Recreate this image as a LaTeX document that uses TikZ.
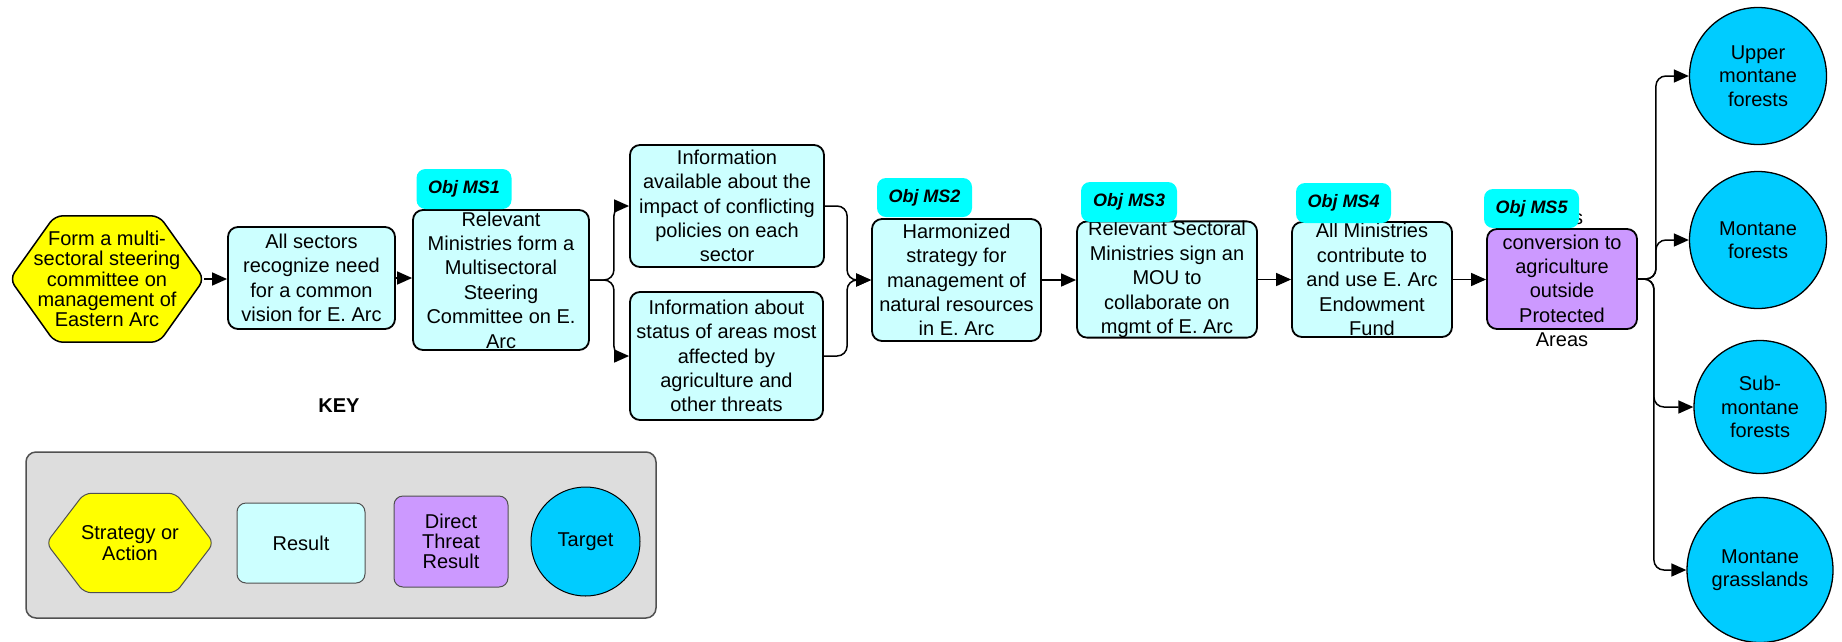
\documentclass[tikz,border=0pt]{standalone}
\usepackage{fontspec}
\setmainfont{Liberation Sans}
\usetikzlibrary{arrows.meta,shapes.geometric,backgrounds}

\definecolor{resultfill}{HTML}{CCFFFF}
\definecolor{threatfill}{HTML}{CC99FF}
\definecolor{targetfill}{HTML}{00CCFF}
\definecolor{objfill}{HTML}{00FFFF}
\definecolor{stratfill}{HTML}{FFFF00}
\definecolor{keyfill}{HTML}{DDDDDD}
\definecolor{keyline}{HTML}{505050}

% hexagon drawn around a (rectangular) node: #1 node, #2 point depth, #3 style
\newcommand{\hexaround}[3]{%
  \draw[#3] ([xshift=#2]#1.north west) -- ([xshift=-#2]#1.north east) -- (#1.east)
    -- ([xshift=-#2]#1.south east) -- ([xshift=#2]#1.south west) -- (#1.west) -- cycle;}

\tikzset{
  boxtext/.style={font=\fontsize{20}{24.4}\selectfont, align=center},
  tighttext/.style={font=\fontsize{20}{20.3}\selectfont, align=center},
  resultbox/.style={boxtext, draw=black, line width=1.8pt, fill=resultfill,
    rounded corners=10pt, inner sep=0pt},
  threatbox/.style={boxtext, draw=black, line width=1.8pt, fill=threatfill,
    rounded corners=10pt, inner sep=0pt},
  objlabel/.style={font=\fontsize{18}{20}\selectfont\bfseries\itshape, fill=objfill,
    rounded corners=9pt, inner sep=0pt, minimum width=95pt, minimum height=40pt},
  targetnode/.style={ellipse, draw=black, line width=1.3pt, fill=targetfill, inner sep=0pt,
    font=\fontsize{20}{23.4}\selectfont, align=center},
  hexshape/.style={draw=black, line width=1.5pt, fill=stratfill, rounded corners=8pt},
  keyhexshape/.style={draw=keyline, line width=1pt, fill=stratfill, rounded corners=7pt},
  keyitem/.style={tighttext, draw=keyline, line width=1pt, rounded corners=9pt, inner sep=0pt},
  keyframe/.style={draw=keyline, line width=1.5pt, fill=keyfill, rounded corners=10pt, inner sep=0pt},
  conn/.style={draw=black, line width=1.5pt, rounded corners=10pt,
    -{Triangle[length=15pt,width=13pt]}},
}

\begin{document}
\begin{tikzpicture}[x=1pt,y=-1pt]
\useasboundingbox (0,0) rectangle (1842,641);

% ---- main chain ----
\node[tighttext, minimum width=194pt, minimum height=126pt, inner sep=0pt] (form) at (107,279)
  {Form a multi-\\sectoral steering\\committee on\\management of\\Eastern Arc};

\node[resultbox, minimum width=167pt, minimum height=102pt] (allsec) at (311.5,278)
  {All sectors\\recognize need\\for a common\\vision for E. Arc};

\node[resultbox, minimum width=176pt, minimum height=140pt] (ms1) at (501,280)
  {Relevant\\Ministries form a\\Multisectoral\\Steering\\Committee on E.\\Arc};
\node[objlabel] (obj1) at (464,189) {Obj MS1};

\node[resultbox, minimum width=194pt, minimum height=122pt] (info1) at (727,206)
  {Information\\available about the\\impact of conflicting\\policies on each\\sector};
\node[resultbox, minimum width=193pt, minimum height=128pt] (info2) at (726.5,356)
  {Information about\\status of areas most\\affected by\\agriculture and\\other threats};

\node[resultbox, minimum width=169pt, minimum height=122pt] (harm) at (956.5,280)
  {Harmonized\\strategy for\\management of\\natural resources\\in E. Arc};
\node[objlabel, minimum height=39pt] (obj2) at (924.5,197.5) {Obj MS2};

\node[resultbox, minimum width=180pt, minimum height=115pt] (ms3) at (1167,279.5)
  {Relevant Sectoral\\Ministries sign an\\MOU to\\collaborate on\\mgmt of E. Arc};
\node[objlabel, minimum width=96pt] (obj3) at (1129,202) {Obj MS3};

\node[resultbox, minimum width=160pt, minimum height=115pt] (ms4) at (1372,279.5)
  {All Ministries\\contribute to\\and use E. Arc\\Endowment\\Fund};
\node[objlabel] (obj4) at (1343.5,203) {Obj MS4};

\node[threatbox, minimum width=150pt, minimum height=100pt] (ms5) at (1562,279) {};
\node[boxtext, inner sep=0pt] (ms5text) at (ms5.center)
  {Less\\conversion to\\agriculture\\outside\\Protected\\Areas};
\node[objlabel, minimum height=39pt] (obj5) at (1531.5,208.5) {Obj MS5};

% ---- targets ----
\node[targetnode, minimum width=137pt, minimum height=137pt] (upper) at (1758,76)
  {Upper\\montane\\forests};
\node[targetnode, minimum width=137pt, minimum height=137pt] (montane) at (1758,240)
  {Montane\\forests};
\node[targetnode, minimum width=132pt, minimum height=133pt] (submontane) at (1760,407)
  {Sub-\\montane\\forests};
\node[targetnode, minimum width=146pt, minimum height=145pt] (grass) at (1760,570)
  {Montane\\grasslands};

% ---- connectors ----
\draw[conn] (form.east) -- (form.east -| allsec.west);
\draw[conn] (allsec.east) -- (allsec.east -| ms1.west);
\draw[conn] (ms1.east) -- ++(24pt,0) |- (info1.west);
\draw[conn] (ms1.east) -- ++(24pt,0) |- (info2.west);
\draw[conn] (info1.east) -| ([xshift=-24pt]harm.west) -- (harm.west);
\draw[conn] (info2.east) -| ([xshift=-24pt]harm.west) -- (harm.west);
\draw[conn] (harm.east) -- (harm.east -| ms3.west);
\draw[conn] (ms3.east) -- (ms3.east -| ms4.west);
\draw[conn] (ms4.east) -- (ms4.east -| ms5.west);
\draw[conn] (ms5.east) -- ++(18pt,0) |- (upper.west);
\draw[conn] (ms5.east) -- ++(18pt,0) |- (montane.west);
\draw[conn] (ms5.east) -- ++(16pt,0) |- (submontane.west);
\draw[conn] (ms5.east) -- ++(16pt,0) |- (grass.west);

% ---- key ----
\node[font=\fontsize{20}{24}\selectfont\bfseries] (keytitle) at (339,406) {KEY};
\node[tighttext, minimum width=167pt, minimum height=99pt, inner sep=0pt] (keystrat) at (130,543)
  {Strategy or\\Action};
\node[keyitem, fill=resultfill, minimum width=128pt, minimum height=80pt] (keyresult) at (301,543)
  {Result};
\node[keyitem, fill=threatfill, minimum width=114pt, minimum height=91pt] (keythreat) at (451,541.5)
  {Direct\\Threat\\Result};
\node[targetnode, line width=1pt, minimum width=109pt, minimum height=109pt] (keytarget) at (585.5,541.5)
  {Target};

% ---- shapes behind the nodes ----
\begin{scope}[on background layer]
  \fill[white] (0,0) rectangle (1842,641);
  \node[keyframe, minimum width=630pt, minimum height=166pt] (keybox) at (341,535) {};
  \hexaround{form}{45pt}{hexshape}
  \hexaround{keystrat}{38pt}{keyhexshape}
\end{scope}
\end{tikzpicture}
\end{document}
